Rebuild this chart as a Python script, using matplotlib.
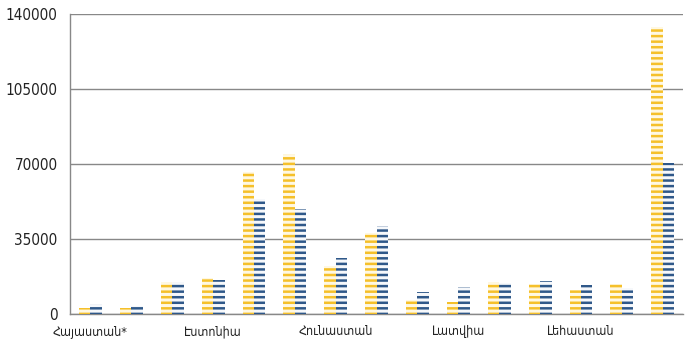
import numpy as np
import matplotlib
matplotlib.use("Agg")
import matplotlib.pyplot as plt

# Countries (only every third label is shown in the original)
categories = ["Հայաստան*", "", "", "Էստոնիա", "", "", "Հունաստան", "", "",
              "Լատվիա", "", "", "Լեհաստան", "", ""]
series_yellow = [2900, 2900, 14800, 16700, 66100, 74800, 22500, 37900,
                 6700, 5700, 14800, 13900, 11100, 13900, 134100]
series_blue = [4800, 3900, 15100, 16000, 53800, 49000, 26300, 41100,
               10300, 12600, 14600, 15400, 13700, 12300, 70500]
y_ticks = [0, 35000, 70000, 105000, 140000]

plt.rcParams['font.family'] = ['DejaVu Sans']
plt.rcParams['hatch.linewidth'] = 1.8

fig = plt.figure(figsize=(7, 3.48), dpi=100)
ax = fig.add_axes([0.1, 0.0977, 0.876, 0.862])

x = np.arange(len(categories))
w = 0.28
ax.bar(x - w / 2, series_yellow, width=w, facecolor='#FFF8E2', edgecolor='#F5C02A',
       hatch='---', linewidth=0, zorder=3)
ax.bar(x + w / 2, series_blue, width=w, facecolor='#F6F8FB', edgecolor='#2F5889',
       hatch='---', linewidth=0, zorder=3)

ax.set_xlim(-0.5, len(categories) - 0.5)
ax.set_ylim(0, 140000)
ax.set_yticks(y_ticks)
ax.set_yticklabels([str(v) for v in y_ticks], fontsize=11, color='#222222',
                   fontstretch='condensed')
ax.set_xticks(x)
ax.set_xticklabels(categories, fontsize=9, color='#222222', fontstretch='condensed')
ax.tick_params(axis='both', length=0)
ax.tick_params(axis='y', pad=9)
ax.tick_params(axis='x', pad=8)

ax.grid(axis='y', color='#888888', linewidth=1, zorder=0)
for side in ['top', 'right']:
    ax.spines[side].set_visible(False)
for side in ['left', 'bottom']:
    ax.spines[side].set_color('#888888')
    ax.spines[side].set_linewidth(1)

fig.savefig('out.png', dpi=100)
